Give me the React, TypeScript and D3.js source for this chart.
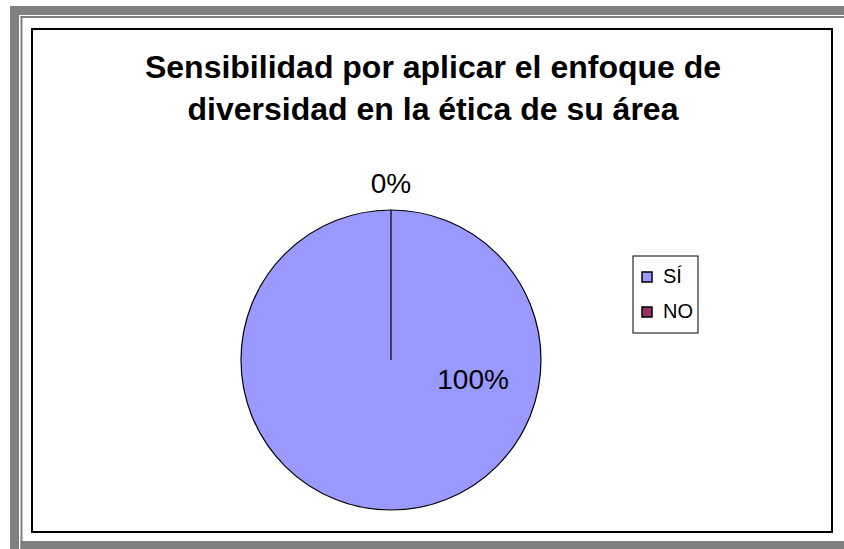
import React from "react";
import * as d3 from "d3";

const categories = ["SÍ", "NO"];
const values = [100, 0];
const labels = ["100%", "0%"];
const colors = ["#9999FF", "#993366"];
const titleLines = ["Sensibilidad por aplicar el enfoque de", "diversidad en la ética de su área"];

const W = 844;
const H = 549;
const FONT = "'Liberation Sans', Arial, Helvetica, sans-serif";

export default function App() {
  const cx = 391;
  const cy = 360;
  const r = 150;
  const pie = d3.pie<number>().sort(null).value((d) => d)(values);
  const arc = d3.arc<d3.PieArcDatum<number>>().innerRadius(0).outerRadius(r);
  // label placement (polar, from the pie centre)
  const labelPolar = [
    { a: (105 * Math.PI) / 180, rr: 85 },
    { a: 0, rr: 174 },
  ];
  const legendX = 633;
  const legendY = 256;
  const legendRow = d3.scaleBand<string>().domain(categories).range([0, 77]).paddingOuter(0.1);

  return (
    <svg
      width={W}
      height={H}
      style={{ position: "absolute", left: 0, top: 0, display: "block", background: "#fff" }}
    >
      {/* outer frame */}
      <rect x={10} y={6} width={W - 10} height={9} fill="#808080" />
      <rect x={10} y={6} width={9} height={H - 6} fill="#808080" />
      <rect x={20.5} y={16} width={W - 20.5} height={2} fill="#808080" />
      <rect x={20.5} y={16} width={2} height={H - 16} fill="#808080" />
      <rect x={20.5} y={541} width={W - 20.5} height={8} fill="#808080" />
      {/* chart border */}
      <rect x={32} y={29} width={800} height={503} fill="#fff" stroke="#000" strokeWidth={2} />

      {titleLines.map((t, i) => (
        <text
          key={i}
          x={433}
          y={78 + i * 42}
          textAnchor="middle"
          fontFamily={FONT}
          fontWeight="bold"
          fontSize={32}
          fill="#000"
        >
          {t}
        </text>
      ))}

      <g transform={`translate(${cx},${cy})`}>
        {pie.map((p, i) => (
          <path key={i} d={arc(p) || ""} fill={colors[i]} stroke="#000" strokeWidth={1.2} />
        ))}
        {pie.map((p, i) => {
          const lp = labelPolar[i];
          return (
            <text
              key={"l" + i}
              x={Math.sin(lp.a) * lp.rr}
              y={-Math.cos(lp.a) * lp.rr}
              textAnchor="middle"
              dominantBaseline="middle"
              fontFamily={FONT}
              fontSize={28}
              fill="#000"
            >
              {labels[i]}
            </text>
          );
        })}
      </g>

      <g transform={`translate(${legendX},${legendY})`}>
        <rect x={0} y={0} width={65} height={77} fill="#fff" stroke="#000" strokeWidth={1} />
        {categories.map((c, i) => {
          const y = (legendRow(c) || 0) + legendRow.bandwidth() / 2;
          return (
            <g key={c}>
              <rect x={9} y={y - 5} width={10} height={10} fill={colors[i]} stroke="#000" strokeWidth={1.5} />
              <text x={30} y={y + 1} dominantBaseline="middle" fontFamily={FONT} fontSize={20} fill="#000">
                {c}
              </text>
            </g>
          );
        })}
      </g>
    </svg>
  );
}
